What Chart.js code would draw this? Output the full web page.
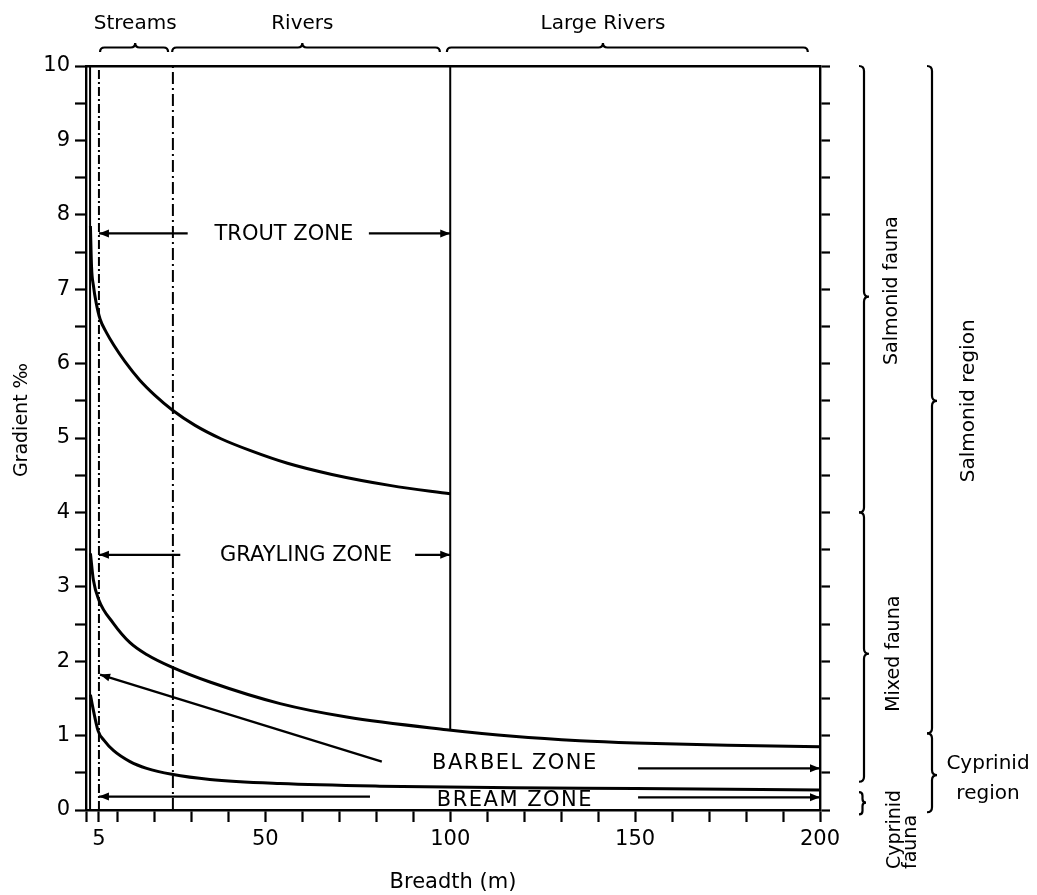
<!DOCTYPE html>
<html>
<head>
<meta charset="utf-8">
<script src="https://cdn.jsdelivr.net/npm/chart.js@4.4.0/dist/chart.umd.min.js"></script>
<style>
  html, body { margin: 0; padding: 0; background: #fff; }
  #wrap { width: 1037px; height: 895px; position: relative; }
</style>
</head>
<body>
<div id="wrap"><canvas id="zoneChart"></canvas></div>
<script>
// Zone boundary curves: breadth (m) vs gradient (per mille)
const troutBreadth  = [2.7, 3.0, 3.5, 4.2, 5.3, 7, 9, 12, 16, 20, 25, 31, 38, 46, 56, 68, 84, 100];
const troutGradient = [7.85, 7.3, 7.05, 6.83, 6.6, 6.42, 6.25, 6.03, 5.78, 5.58, 5.37, 5.17, 4.99, 4.83, 4.66, 4.51, 4.36, 4.25];

const graylingBreadth  = [2.7, 3.5, 5.0, 8.9, 13.4, 17.9, 24.7, 35, 54, 72, 99, 117, 135, 150, 175, 200];
const graylingGradient = [3.45, 3.09, 2.82, 2.51, 2.25, 2.09, 1.92, 1.72, 1.43, 1.25, 1.08, 0.99, 0.93, 0.9, 0.87, 0.85];

const barbelBreadth  = [2.7, 3.3, 4.8, 6.5, 8.9, 13.4, 17.9, 24.7, 35, 54, 81, 117, 150, 200];
const barbelGradient = [1.55, 1.39, 1.06, 0.93, 0.8, 0.65, 0.56, 0.48, 0.41, 0.355, 0.32, 0.3, 0.29, 0.27];

// vertical reference lines
const asymptoteX = 2.6;
const streamLimitX = 5;
const riverLimitX = 25;
const largeRiverX = 100;
const largeRiverBottom = 1.08;

// zone labels and their arrows [tailX, tailY, headX, headY]
const zoneNames = ['TROUT ZONE', 'GRAYLING ZONE', 'BARBEL ZONE', 'BREAM ZONE'];
const zoneLabelX = [55, 61, 117.5, 117.5];
const zoneLabelY = [7.74, 3.42, 0.63, 0.13];
const zoneArrows = [
  [29, 7.75, 5, 7.75], [78, 7.75, 100, 7.75],
  [27, 3.43, 5, 3.43], [90.5, 3.43, 100, 3.43],
  [81.5, 0.65, 5.3, 1.82], [150.8, 0.56, 200, 0.56],
  [78.3, 0.18, 5, 0.18], [150.8, 0.17, 200, 0.17]
];

// braces: river size classes along the top, fauna / regions on the right
const reachNames = ['Streams', 'Rivers', 'Large Rivers'];
const reachFrom = [5.3, 24.8, 99.1];
const reachTo = [23.7, 97.2, 196.7];
const reachTip = [14.8, 60, 141.3];

const faunaNames = ['Salmonid fauna', 'Mixed fauna', 'Cyprinid fauna'];
const faunaFrom = [10, 4, 0.24];
const faunaTo = [4, 0.38, -0.06];
const faunaTip = [6.9, 2.1, 0.1];

const regionNames = ['Salmonid region', 'Cyprinid region'];
const regionFrom = [10, 1.03];
const regionTo = [1.03, -0.03];
const regionTip = [5.5, 0.47];

// axis ticks
const xTickMarks = [1.5, 5, 10, 20, 30, 40, 50, 60, 70, 80, 90, 100, 110, 120, 130, 140, 150, 160, 170, 180, 190, 200];
const xTickLabels = [5, 50, 100, 150, 200];
const yTickMarks = [0, 0.5, 1, 1.5, 2, 2.5, 3, 3.5, 4, 4.5, 5, 5.5, 6, 6.5, 7, 7.5, 8, 8.5, 9, 9.5, 10];

const FONT = '"DejaVu Sans", sans-serif';

function pts(xs, ys) {
  return xs.map((x, i) => ({ x: x, y: ys[i] }));
}

function curve(label, xs, ys) {
  return {
    label: label, data: pts(xs, ys), showLine: true, borderColor: '#000',
    borderWidth: 3, pointRadius: 0, cubicInterpolationMode: 'monotone'
  };
}

function vline(label, x, y0, y1, dash) {
  return {
    label: label, data: [{ x: x, y: y0 }, { x: x, y: y1 }], showLine: true,
    borderColor: '#000', borderWidth: 2, pointRadius: 0, borderDash: dash || []
  };
}

const datasets = [
  curve('trout', troutBreadth, troutGradient),
  curve('grayling', graylingBreadth, graylingGradient),
  curve('barbel', barbelBreadth, barbelGradient),
  vline('asymptote', asymptoteX, 0, 10),
  vline('streams', streamLimitX, 0, 10, [9, 3, 2, 3]),
  vline('rivers', riverLimitX, 0, 10, [12, 4, 2, 4]),
  vline('large rivers', largeRiverX, 10, largeRiverBottom)
];
zoneArrows.forEach((a, i) => {
  datasets.push({
    label: 'arrow' + i, data: [{ x: a[0], y: a[1] }, { x: a[2], y: a[3] }],
    showLine: true, borderColor: '#000', borderWidth: 2.3, pointRadius: 0, arrow: true
  });
});

// filled arrow heads at the last point of each arrow dataset
const arrowHeads = {
  id: 'arrowHeads',
  afterDatasetsDraw(chart) {
    const ctx = chart.ctx;
    chart.data.datasets.forEach((ds, i) => {
      if (!ds.arrow) return;
      const p = chart.getDatasetMeta(i).data;
      const a = p[p.length - 2], b = p[p.length - 1];
      const ang = Math.atan2(b.y - a.y, b.x - a.x);
      ctx.save();
      ctx.translate(b.x, b.y);
      ctx.rotate(ang);
      ctx.beginPath();
      ctx.moveTo(0, 0);
      ctx.lineTo(-10, -4);
      ctx.lineTo(-10, 4);
      ctx.closePath();
      ctx.fillStyle = '#000';
      ctx.fill();
      ctx.restore();
    });
  }
};

function braceTop(ctx, x1, x2, xm, yb, h) {
  ctx.beginPath();
  ctx.moveTo(x1, yb);
  ctx.quadraticCurveTo(x1, yb - h, x1 + h, yb - h);
  ctx.lineTo(xm - h, yb - h);
  ctx.quadraticCurveTo(xm, yb - h, xm, yb - 2 * h);
  ctx.quadraticCurveTo(xm, yb - h, xm + h, yb - h);
  ctx.lineTo(x2 - h, yb - h);
  ctx.quadraticCurveTo(x2, yb - h, x2, yb);
  ctx.stroke();
}

function braceRight(ctx, y1, y2, ym, xb, h) {
  ctx.beginPath();
  ctx.moveTo(xb, y1);
  ctx.quadraticCurveTo(xb + h, y1, xb + h, y1 + h);
  ctx.lineTo(xb + h, ym - h);
  ctx.quadraticCurveTo(xb + h, ym, xb + 2 * h, ym);
  ctx.quadraticCurveTo(xb + h, ym, xb + h, ym + h);
  ctx.lineTo(xb + h, y2 - h);
  ctx.quadraticCurveTo(xb + h, y2, xb, y2);
  ctx.stroke();
}

function vtext(ctx, text, x, y, align) {
  ctx.save();
  ctx.translate(x, y);
  ctx.rotate(-Math.PI / 2);
  ctx.textAlign = align || 'center';
  ctx.fillText(text, 0, 0);
  ctx.restore();
}

const annotations = {
  id: 'annotations',
  afterDraw(chart) {
    const { ctx, chartArea: area } = chart;
    const xs = chart.scales.x, ys = chart.scales.y;
    ctx.save();
    ctx.fillStyle = '#000';
    ctx.strokeStyle = '#000';
    ctx.lineWidth = 2.2;
    ctx.textAlign = 'center';
    ctx.textBaseline = 'middle';

    ctx.font = '21px ' + FONT;
    zoneNames.forEach((n, i) => {
      ctx.letterSpacing = i >= 2 ? '1.5px' : '0px';
      ctx.fillText(n, xs.getPixelForValue(zoneLabelX[i]), ys.getPixelForValue(zoneLabelY[i]));
    });
    ctx.letterSpacing = '0px';

    // top braces
    ctx.font = '20px ' + FONT;
    reachNames.forEach((n, i) => {
      const tip = xs.getPixelForValue(reachTip[i]);
      braceTop(ctx, xs.getPixelForValue(reachFrom[i]), xs.getPixelForValue(reachTo[i]), tip, area.top - 14, 4.5);
      ctx.fillText(n, tip, 24);
    });

    // fauna braces
    ctx.font = '19px ' + FONT;
    faunaNames.forEach((n, i) => {
      const h = i === 2 ? 3.5 : 5;
      braceRight(ctx, ys.getPixelForValue(faunaFrom[i]), ys.getPixelForValue(faunaTo[i]),
        ys.getPixelForValue(faunaTip[i]), area.right + 39, h);
    });
    vtext(ctx, faunaNames[0], area.right + 72, ys.getPixelForValue(faunaTip[0]) - 6);
    vtext(ctx, faunaNames[1], area.right + 74, ys.getPixelForValue(faunaTip[1]));
    const cf = faunaNames[2].split(' ');
    vtext(ctx, cf[0], area.right + 75, 869, 'left');
    vtext(ctx, cf[1], area.right + 91, 869, 'left');

    // region braces
    regionNames.forEach((n, i) => {
      braceRight(ctx, ys.getPixelForValue(regionFrom[i]), ys.getPixelForValue(regionTo[i]),
        ys.getPixelForValue(regionTip[i]), area.right + 107, 5);
    });
    ctx.font = '20px ' + FONT;
    vtext(ctx, regionNames[0], area.right + 149, ys.getPixelForValue(regionTip[0]));
    const cr = regionNames[1].split(' ');
    const crY = ys.getPixelForValue(regionTip[1]);
    ctx.fillText(cr[0], area.right + 168, crY - 11);
    ctx.fillText(cr[1], area.right + 168, crY + 19);

    // y axis title
    ctx.font = '19px ' + FONT;
    vtext(ctx, 'Gradient \u2030', 22, 420);
    ctx.restore();
  }
};

const axisGrid = { drawOnChartArea: false, color: '#000', tickWidth: 2.2 };
const axisBorder = { display: true, color: '#000', width: 2.4 };

new Chart(document.getElementById('zoneChart'), {
  type: 'scatter',
  data: { datasets: datasets },
  options: {
    responsive: true,
    maintainAspectRatio: false,
    animation: false,
    events: [],
    layout: { padding: { left: 0, right: 207, top: 66, bottom: 0 } },
    plugins: { legend: { display: false }, tooltip: { enabled: false } },
    scales: {
      x: {
        type: 'linear', position: 'bottom', min: 1.5, max: 200,
        afterBuildTicks: s => { s.ticks = xTickMarks.map(v => ({ value: v })); },
        afterFit: s => { s.height = 85; },
        grid: Object.assign({ tickLength: 12 }, axisGrid),
        border: axisBorder,
        ticks: {
          autoSkip: false, maxRotation: 0, padding: 5, color: '#000',
          font: { family: FONT, size: 21 },
          callback: v => xTickLabels.includes(v) ? String(v) : ''
        },
        title: {
          display: true, text: 'Breadth (m)', color: '#000',
          font: { family: FONT, size: 21 }, padding: { top: 0, bottom: 0 }
        }
      },
      x2: {
        type: 'linear', position: 'top', min: 1.5, max: 200,
        afterFit: s => { s.height = 0; },
        grid: { display: false },
        border: axisBorder,
        ticks: { display: false }
      },
      y: {
        type: 'linear', position: 'left', min: 0, max: 10,
        afterBuildTicks: s => { s.ticks = yTickMarks.map(v => ({ value: v })); },
        afterFit: s => { s.width = 86; },
        grid: Object.assign({ tickLength: 11 }, axisGrid),
        border: axisBorder,
        ticks: {
          autoSkip: false, padding: 5, color: '#000',
          font: { family: FONT, size: 21 },
          callback: v => Number.isInteger(v) ? String(v) : ''
        }
      },
      y2: {
        type: 'linear', position: 'right', min: 0, max: 10,
        afterBuildTicks: s => { s.ticks = yTickMarks.map(v => ({ value: v })); },
        afterFit: s => { s.width = 10; },
        grid: Object.assign({ tickLength: 10 }, axisGrid),
        border: axisBorder,
        ticks: { display: false }
      }
    }
  },
  plugins: [arrowHeads, annotations]
});
</script>
</body>
</html>
